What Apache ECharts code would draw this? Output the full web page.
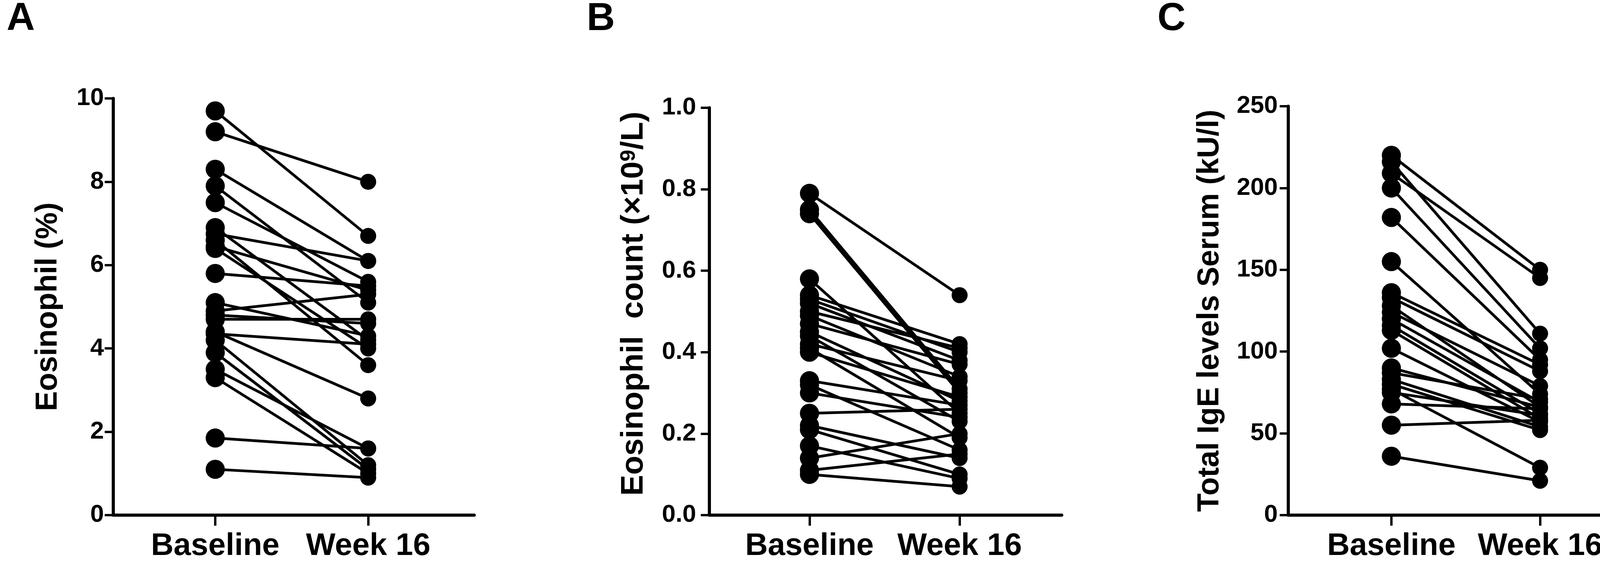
<!DOCTYPE html>
<html>
<head>
<meta charset="utf-8">
<script src="https://cdn.jsdelivr.net/npm/echarts@6/dist/echarts.min.js"></script>
<style>
  html, body { margin: 0; padding: 0; background: #fff; }
  #chart { width: 4212px; height: 1439px; }
</style>
</head>
<body>
<div id="chart"></div>
<script>
// ---------------- DATA ----------------
const categories = ['Baseline', 'Week 16'];

// Panel A: Eosinophil (%)
const eosPctBaseline = [9.7, 9.2, 8.3, 7.9, 7.5, 6.9, 6.75, 6.6, 6.45, 6.4, 5.8, 5.1, 4.9, 4.8, 4.7, 4.4, 4.35, 4.2, 3.9, 3.5, 3.3, 1.85, 1.1];
const eosPctWeek16   = [6.7, 8.0, 6.1, 5.1, 5.6, 4.2, 6.1, 3.6, 5.4, 4.0, 5.5, 4.3, 5.3, 4.6, 4.7, 2.8, 4.1, 1.2, 1.1, 1.6, 1.0, 1.6, 0.9];
const eosPctTicks = [0, 2, 4, 6, 8, 10];

// Panel B: Eosinophil count (x10^9/L)
const eosCountBaseline = [0.79, 0.75, 0.74, 0.58, 0.54, 0.53, 0.52, 0.50, 0.49, 0.47, 0.45, 0.44, 0.42, 0.41, 0.40, 0.33, 0.32, 0.30, 0.25, 0.22, 0.21, 0.17, 0.14, 0.11, 0.10];
const eosCountWeek16   = [0.54, 0.31, 0.30, 0.25, 0.42, 0.40, 0.38, 0.41, 0.34, 0.37, 0.28, 0.23, 0.33, 0.19, 0.29, 0.27, 0.16, 0.24, 0.26, 0.14, 0.10, 0.09, 0.20, 0.15, 0.07];
const eosCountTicks = [0.0, 0.2, 0.4, 0.6, 0.8, 1.0];

// Panel C: Total IgE levels Serum (kU/l)
const igeBaseline = [220, 216, 209, 200, 182, 155, 136, 133, 128, 124, 120, 116, 113, 102, 90, 87, 83, 80, 77, 75, 68, 55, 36];
const igeWeek16   = [150, 111, 145, 102, 95, 74, 92, 88, 66, 79, 69, 62, 59, 57, 66, 71, 54, 52, 29, 61, 65, 58, 21];
const igeTicks = [0, 50, 100, 150, 200, 250];

const panelLetters = ['A', 'B', 'C'];
const yTitles = ['Eosinophil (%)', 'Eosinophil  count (×10{sup|9}/L)', 'Total IgE levels Serum (kU/l)'];

// ---------------- LAYOUT / STYLE ----------------
const FONT = "'Liberation Sans', Arial, Helvetica, sans-serif";
const catPos = [1, 2.5];          // x-axis positions of the two categories
const panels = [
  { base: eosPctBaseline,   week: eosPctWeek16,   ticks: eosPctTicks,   dec: 0,
    grid: { left: 290,  top: 252, width: 924, height: 1069 }, xMin: 0, xMax: 3.54,
    labelMargin: 24, nameGap: 128, nameSize: 77, namePad: [0, 0, 0, 0], letterX: 12 },
  { base: eosCountBaseline, week: eosCountWeek16, ticks: eosCountTicks, dec: 1,
    grid: { left: 1816, top: 276, width: 902, height: 1048 }, xMin: 0, xMax: 3.52,
    labelMargin: 34, nameGap: 153, nameSize: 80, namePad: [0, 0, 0, 40], letterX: 1497 },
  { base: igeBaseline,      week: igeWeek16,      ticks: igeTicks,      dec: 0,
    grid: { left: 3298, top: 272, width: 906, height: 1049 }, xMin: -0.04, xMax: 3.53,
    labelMargin: 27, nameGap: 162, nameSize: 77, namePad: [0, 0, 0, 0], letterX: 2958 }
];

const grids = [], xAxes = [], yAxes = [], series = [], titles = [];

panels.forEach((p, i) => {
  grids.push(Object.assign({ containLabel: false }, p.grid));
  titles.push({
    text: panelLetters[i], left: p.letterX, top: -6,
    textStyle: { fontFamily: FONT, fontWeight: 'bold', fontSize: 100, color: '#000' }
  });
  xAxes.push({
    type: 'value', gridIndex: i, min: p.xMin, max: p.xMax,
    axisLine: { show: true, onZero: false, lineStyle: { color: '#000', width: 8 } },
    axisTick: { show: true, customValues: catPos, length: 27, lineStyle: { color: '#000', width: 6 } },
    axisLabel: {
      show: true, customValues: catPos, margin: 40,
      formatter: v => categories[catPos.indexOf(v)] || '',
      fontFamily: FONT, fontWeight: 'bold', fontSize: 80, color: '#000'
    },
    splitLine: { show: false }
  });
  const t = p.ticks;
  yAxes.push({
    type: 'value', gridIndex: i,
    min: t[0], max: t[t.length - 1], interval: t[1] - t[0],
    name: yTitles[i], nameLocation: 'middle', nameGap: p.nameGap,
    nameTextStyle: {
      fontFamily: FONT, fontWeight: 'bold', fontSize: p.nameSize, color: '#000', padding: p.namePad,
      rich: { sup: { fontFamily: FONT, fontWeight: 'bold', fontSize: 54, color: '#000', verticalAlign: 'top', lineHeight: 62 } }
    },
    axisLine: { show: true, onZero: false, lineStyle: { color: '#000', width: 8 } },
    axisTick: { show: true, length: 22, lineStyle: { color: '#000', width: 6 } },
    axisLabel: {
      margin: p.labelMargin, fontFamily: FONT, fontWeight: 'bold', fontSize: 63, color: '#000',
      formatter: v => v.toFixed(p.dec)
    },
    splitLine: { show: false }
  });
  p.base.forEach((b, k) => {
    series.push({
      type: 'line', xAxisIndex: i, yAxisIndex: i,
      data: [[catPos[0], b], [catPos[1], p.week[k]]],
      symbol: 'circle',
      symbolSize: v => (v[0] === catPos[0] ? 49 : 41),
      lineStyle: { color: '#000', width: 7 },
      itemStyle: { color: '#000' },
      silent: true, animation: false
    });
  });
});

const chart = echarts.init(document.getElementById('chart'), null, { renderer: 'canvas', width: 4212, height: 1439 });
chart.setOption({
  backgroundColor: '#fff',
  animation: false,
  title: titles,
  grid: grids,
  xAxis: xAxes,
  yAxis: yAxes,
  series: series
});
</script>
</body>
</html>
